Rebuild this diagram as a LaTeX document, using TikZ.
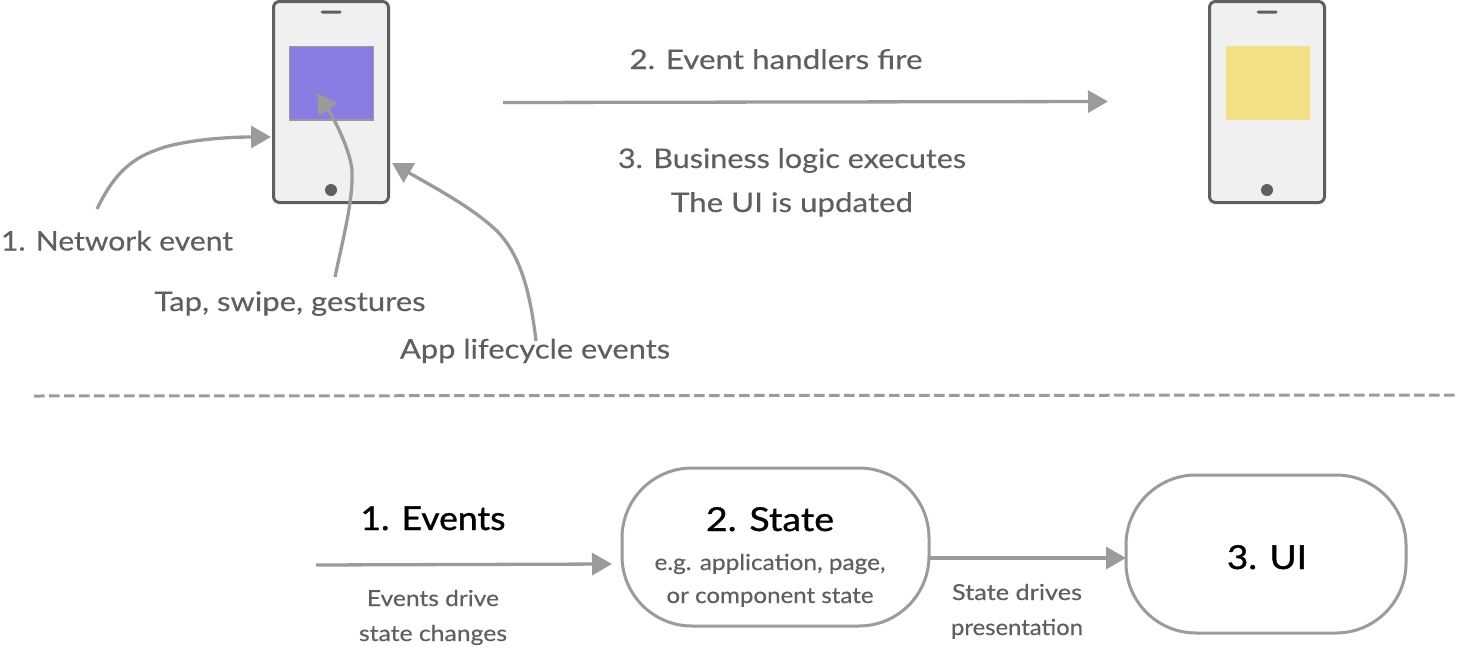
\documentclass[tikz,border=0pt]{standalone}
\usepackage{fontspec}
\usepackage{graphicx}
\setmainfont[FakeBold=0.35]{Lato}
\newfontfamily\headfont[FakeBold=0.9]{Lato}
\usetikzlibrary{arrows.meta}
\definecolor{ink}{HTML}{5F5F62}
\definecolor{wire}{HTML}{9B9B9B}
\definecolor{body}{HTML}{F0F0F0}
\definecolor{violet}{HTML}{897CE2}
\definecolor{sand}{HTML}{F3DF85}
\newcommand{\fitw}[2]{\resizebox{#1pt}{\height}{#2}}
\tikzset{
  x=1pt,y=-1pt,
  phone/.style={draw=ink,fill=body,line width=3pt,rounded corners=6pt,minimum width=115pt,minimum height=201pt,inner sep=0pt,outer sep=0pt},
  screen/.style={minimum width=84pt,minimum height=73.5pt,inner sep=0pt,outer sep=0pt},
  speaker/.style={fill=ink,rounded corners=1.5pt,minimum width=21pt,minimum height=3pt,inner sep=0pt},
  homebtn/.style={circle,fill=ink,minimum size=12pt,inner sep=0pt},
  link/.style={draw=wire,line width=3.3pt,-{Triangle[length=20pt,width=22pt]}},
  pill/.style={draw=wire,fill=white,line width=3pt,inner sep=0pt,outer sep=0pt},
  big/.style={text=ink,font=\fontsize{27}{30}\selectfont,anchor=base,inner sep=0pt},
  small/.style={text=ink,font=\fontsize{22}{26}\selectfont,anchor=base,inner sep=0pt},
  head/.style={text=black,font=\headfont\fontsize{33}{36}\selectfont,anchor=base,inner sep=0pt},
}
\begin{document}
\begin{tikzpicture}
\useasboundingbox (0,0) rectangle (1460,648);
% phones
\node[phone] (p1) at (331,102) {};
\node[screen,fill=violet,draw=wire,line width=1.2pt] (s1) at (331.5,83.2) {};
\node[speaker] (sp1) at (331,12) {};
\node[homebtn] (b1) at (331,190) {};
\node[phone] (p2) at (1267,102) {};
\node[screen,fill=sand] (s2) at (1267.5,83.2) {};
\node[speaker] (sp2) at (1267,12) {};
\node[homebtn] (b2) at (1267,190) {};
% top labels
\node[big] (net) at (117,250.5) {\fitw{232}{1. Network event}};
\node[big] (tap) at (290,311) {\fitw{271}{Tap, swipe, gestures}};
\node[big] (app) at (535,358.5) {\fitw{270}{App lifecycle events}};
\node[big] (ev) at (776,69) {\fitw{293}{2. Event handlers fire}};
\node[big] (biz) at (792,168) {\fitw{348}{3. Business logic executes}};
\node[big] (upd) at (792,212) {\fitw{242}{The UI is updated}};
% connector ends
\coordinate (netS) at (97,209);
\coordinate (netE) at (271,137);
\coordinate (tapS) at (335,277);
\coordinate (tapE) at (317,93);
\coordinate (appS) at (536,341);
\coordinate (appE) at (392,163);
\coordinate (fireS) at (503,102.5);
\coordinate (fireE) at (1108,101.5);
\draw[link] (netS) .. controls (118,165) and (140,155) .. (165,147) .. controls (190,140) and (225,137) .. (netE);
\draw[link] (tapS) .. controls (345,230) and (353,200) .. (352,170) .. controls (350,150) and (335,120) .. (tapE);
\draw[link] (appS) .. controls (530,290) and (520,255) .. (497,231) .. controls (472,207) and (430,185) .. (appE);
\draw[link] (fireS) -- (fireE);
% divider
\coordinate (divS) at (34,396);
\coordinate (divE) at (1456,395);
\draw[draw=wire,line width=3pt,dash pattern=on 10.5pt off 4.5pt] (divS) -- (divE);
% lower row
\node[pill,rounded corners=70pt,minimum width=307pt,minimum height=158pt] (state) at (775.5,547) {};
\node[pill,rounded corners=70pt,minimum width=280pt,minimum height=158pt] (ui) at (1266,554) {};
\node[head] (evh) at (433,530) {\fitw{145}{1. Events}};
\node[head] (sth) at (770,531) {\fitw{128}{2. State}};
\node[head] (uih) at (1267,569) {\fitw{80}{3. UI}};
\node[small] (eg) at (770,570) {\fitw{231}{e.g. application, page,}};
\node[small] (comp) at (770,603) {\fitw{207}{or component state}};
\node[small] (d1) at (433,606) {\fitw{132}{Events drive}};
\node[small] (d2) at (433,641) {\fitw{148}{state changes}};
\node[small] (d3) at (1017,600) {\fitw{130}{State drives}};
\node[small] (d4) at (1017,635) {\fitw{132}{presentation}};
\coordinate (evS) at (316,565);
\coordinate (evE) at (612,564);
\draw[link] (evS) -- (evE);
\draw[link] (state.east |- 0,558) -- (ui.west |- 0,558);
\end{tikzpicture}
\end{document}
